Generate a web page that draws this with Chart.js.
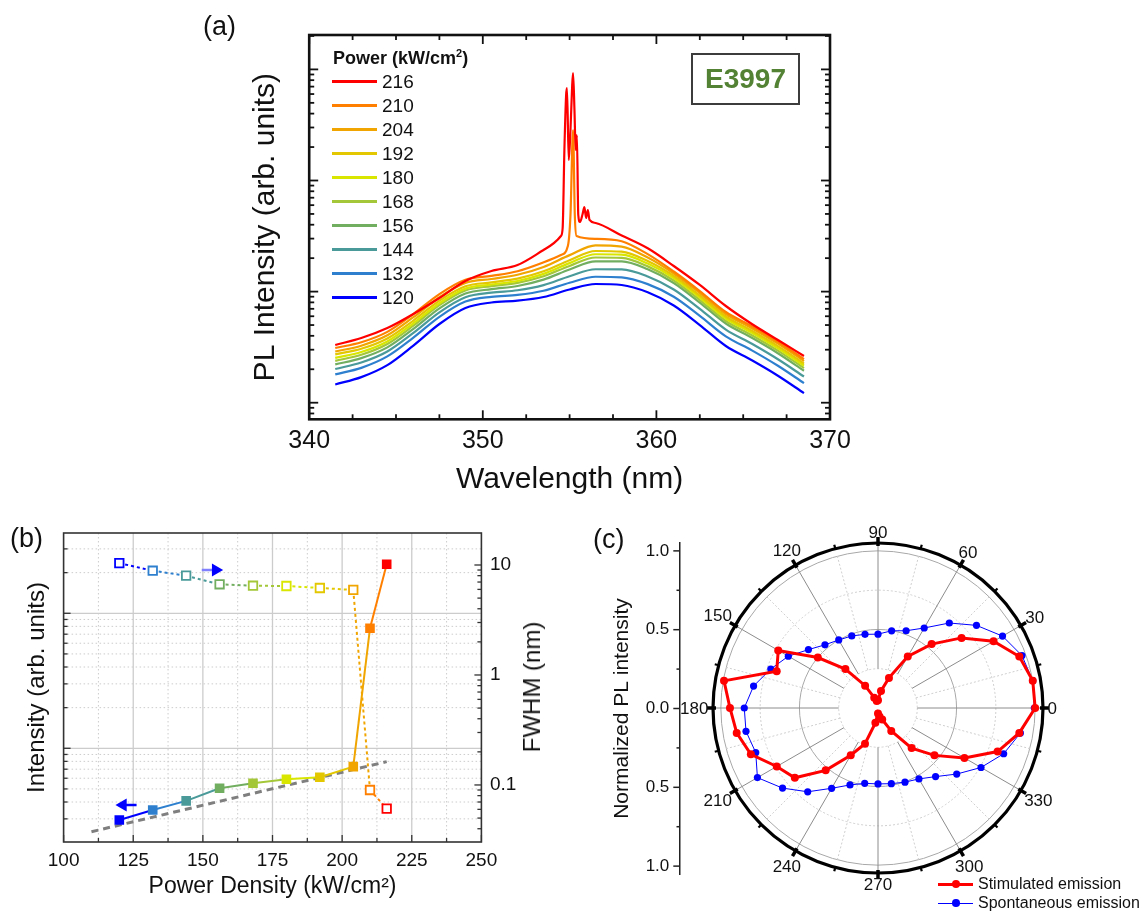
<!DOCTYPE html>
<html>
<head>
<meta charset="utf-8">
<title>E3997 PL spectra, threshold and polarization</title>
<script src="https://cdn.jsdelivr.net/npm/chart.js@4.4.1/dist/chart.umd.min.js"></script>
<style>
  html, body { margin: 0; padding: 0; background: #fff; }
  body { position: relative; width: 1143px; height: 911px; overflow: hidden; font-family: 'Liberation Sans', Arial, sans-serif; color: #111; }
  canvas { position: absolute; }
  .txt { position: absolute; white-space: nowrap; line-height: 1; }
  .panel { font-size: 27px; }
  #boxE { position: absolute; left: 691px; top: 53px; width: 105px; height: 48px; border: 2px solid #3c3c3c; color: #548235; font-weight: bold; font-size: 28px; text-align: center; line-height: 48px; }
  .legRow { position: absolute; height: 24px; line-height: 24px; white-space: nowrap; }
  .legRow .sw { position: absolute; left: 0; }
  .legRow .dot { position: absolute; border-radius: 50%; }
  .legRow .tx { position: absolute; top: 0; }
  #legTitle { position: absolute; left: 333px; top: 46px; height: 24px; line-height: 24px; font-weight: bold; font-size: 18px; white-space: nowrap; }
  #legTitle sup { font-size: 11px; vertical-align: 7px; line-height: 0; }
  #fwhmTitle { left: 532px; top: 687px; font-size: 24px; transform: translate(-50%, -50%) rotate(-90deg); }
</style>
</head>
<body>
<canvas id="chartA" width="630" height="505" style="left:230px; top:0px;"></canvas>
<canvas id="chartB" width="580" height="401" style="left:0px; top:510px;"></canvas>
<canvas id="chartC" width="563" height="401" style="left:580px; top:510px;"></canvas>

<div class="txt panel" style="left:203px; top:13px;">(a)</div>
<div class="txt panel" style="left:10px; top:525px;">(b)</div>
<div class="txt panel" style="left:593px; top:526px;">(c)</div>
<div id="boxE">E3997</div>
<div id="legTitle">Power (kW/cm<sup>2</sup>)</div>
<div id="legendA"></div>
<div class="txt" id="fwhmTitle">FWHM (nm)</div>
<div id="legendC"></div>

<script>
// ---------- panel (a): PL spectra ----------
const wavelength = [341.5, 343, 344.5, 346, 347.5, 349, 350.5, 352, 353.5, 355, 356.5, 358, 359.5, 361, 362.5, 364, 365.5, 367, 368.5];
const pl120 = [1460, 1700, 2180, 3270, 5110, 7120, 7980, 8280, 8940, 10440, 11710, 11470, 9860, 7500, 5000, 3240, 2410, 1750, 1220];
const pl132 = [1800, 2060, 2610, 3850, 5930, 8130, 8980, 9340, 10180, 12020, 13600, 13450, 11680, 8990, 6050, 3960, 2960, 2150, 1500];
const pl144 = [2010, 2300, 2890, 4250, 6510, 8900, 9780, 10280, 11430, 13760, 15890, 15850, 13690, 10450, 7000, 4550, 3390, 2460, 1720];
const pl156 = [2210, 2520, 3150, 4620, 7060, 9620, 10530, 11240, 12820, 15810, 18700, 18680, 15860, 11960, 7970, 5160, 3840, 2790, 1940];
const pl168 = [2380, 2700, 3380, 4940, 7550, 10250, 11210, 12000, 13760, 17030, 20280, 20120, 16870, 12590, 8400, 5440, 4050, 2940, 2050];
const pl180 = [2530, 2860, 3560, 5180, 7860, 10640, 11590, 12450, 14430, 18040, 21680, 21490, 17880, 13260, 8840, 5730, 4260, 3090, 2160];
const pl192 = [2720, 3060, 3790, 5490, 8300, 11160, 12110, 13070, 15230, 19160, 23210, 22890, 18810, 13820, 9220, 5970, 4440, 3230, 2250];
const pl204 = [2890, 3260, 4040, 5880, 8890, 11980, 12980, 14170, 16680, 21300, 26110, 25360, 20240, 14560, 9710, 6290, 4680, 3400, 2370];

// the two highest powers carry the lasing peaks, so they are sampled more densely
const wavelength210 = [341.5, 343, 344.5, 346, 347.5, 349, 350.5, 352, 353.5, 354.5, 354.9, 355.05, 355.2, 355.3, 355.4, 356.5, 358, 359.5, 361, 362.5, 364, 365.5, 367, 368.5];
const pl210 = [3110, 3500, 4340, 6280, 9490, 12770, 13850, 15260, 18350, 21350, 25730, 48920, 284900, 48920, 31660, 29880, 28430, 21760, 15170, 10120, 6550, 4880, 3540, 2470];
const wavelength216 = [341.5, 343, 344.5, 346, 347.5, 349, 350.5, 352, 353.5, 354.5, 354.6, 354.7, 354.8, 354.85, 354.95, 355.05, 355.15, 355.2, 355.28, 355.35, 355.42, 355.5, 355.6, 355.75, 355.85, 355.95, 356.05, 356.15, 356.5, 358, 359.5, 361, 362.5, 364, 365.5, 367, 368.5];
const pl216 = [3310, 3820, 4700, 6290, 8760, 12460, 15320, 17350, 23680, 31660, 37360, 188200, 588300, 680200, 152900, 284800, 723700, 928300, 431000, 188200, 256700, 48920, 42310, 49940, 57730, 45970, 54260, 44110, 41450, 31990, 24530, 17000, 11470, 7420, 5110, 3670, 2630];

// ---------- panel (b): intensity and FWHM vs power ----------
const powerDensity = [120, 132, 144, 156, 168, 180, 192, 204, 210, 216];
const powerColors = ['#0000ff', '#2e80cf', '#4a9a9a', '#72ae60', '#a3c738', '#d8e600', '#e3c700', '#f0a500', '#ff8000', '#ff0000'];
const intensity = [2940, 3490, 4080, 5060, 5510, 5890, 6100, 7310, 77400, 230700];
const fwhm = [10.4, 8.87, 7.99, 6.68, 6.48, 6.44, 6.18, 5.93, 0.090, 0.061];
const fitPower = [110, 216];
const fitIntensity = [2410, 7960];
const arrowLeftPower = [126.2, 121.3];
const arrowLeftIntensity = 3800;
const arrowRightPower = [149.6, 154.6];
const arrowRightFwhm = 9.0;
const fwhmTicks = [0.1, 1, 10];

// ---------- panel (c): polar plot ----------
const polarAngle = [0, 10, 20, 30, 40, 50, 60, 70, 80, 90, 100, 110, 120, 130, 140, 150, 160, 170,
  180, 190, 200, 210, 220, 230, 240, 250, 260, 270, 280, 290, 300, 310, 320, 330, 340, 350];
const stimulated = [1.0, 1.0, 0.957, 0.849, 0.694, 0.531, 0.379, 0.204, 0.11, 0.05, 0.045, 0.07, 0.164, 0.323, 0.5, 0.733, 0.686, 0.995,
  0.942, 0.913, 0.861, 0.744, 0.691, 0.518, 0.347, 0.242, 0.096, 0.035, 0.055, 0.078, 0.169, 0.333, 0.469, 0.635, 0.81, 0.913];
const spontaneous = [0.995, 1.0, 0.975, 0.915, 0.818, 0.706, 0.588, 0.523, 0.499, 0.47, 0.476, 0.488, 0.5, 0.525, 0.578, 0.659, 0.726, 0.804,
  0.851, 0.853, 0.828, 0.886, 0.793, 0.696, 0.59, 0.521, 0.487, 0.483, 0.489, 0.502, 0.521, 0.57, 0.654, 0.757, 0.851, 0.92];
const intensityTicks = [-1, -0.5, 0, 0.5, 1];


Chart.defaults.font.family = "'Liberation Sans', Arial, sans-serif";
Chart.defaults.color = '#111';

function seg(ctx, x1, y1, x2, y2) {
    ctx.beginPath();
    ctx.moveTo(x1, y1);
    ctx.lineTo(x2, y2);
    ctx.stroke();
}

// 1..9 x 10^n marks inside a log range
function logMarks(min, max) {
    const out = [];
    for (let e = Math.floor(Math.log10(min)); e <= Math.ceil(Math.log10(max)); e++) {
        for (let m = 1; m <= 9; m++) {
            const v = m * Math.pow(10, e);
            if (v >= min * 0.999 && v <= max * 1.001) out.push({ v: v, major: m === 1 });
        }
    }
    return out;
}

function pairs(xs, ys) {
    return xs.map((x, i) => ({ x: x, y: ys[i] }));
}

// ---------------- (a) ----------------
const spectra = [
    [wavelength216, pl216], [wavelength210, pl210], [wavelength, pl204], [wavelength, pl192], [wavelength, pl180],
    [wavelength, pl168], [wavelength, pl156], [wavelength, pl144], [wavelength, pl132], [wavelength, pl120]
];
const spectraColors = powerColors.slice().reverse();
const spectraLabels = powerDensity.slice().reverse();

const frameA = {
    id: 'frameA',
    afterDatasetsDraw(chart) {
        const { ctx, chartArea: a, scales: { x, y } } = chart;
        ctx.save();
        ctx.strokeStyle = '#111';
        ctx.lineWidth = 1.8;
        for (let v = x.min; v <= x.max; v += 2.5) {
            const px = x.getPixelForValue(v);
            const len = v % 10 === 0 ? 9 : 5;
            seg(ctx, px, a.bottom, px, a.bottom - len);
            seg(ctx, px, a.top, px, a.top + len);
        }
        logMarks(y.min, y.max).forEach(t => {
            const py = y.getPixelForValue(t.v);
            const len = t.major ? 9 : 5;
            seg(ctx, a.left, py, a.left + len, py);
            seg(ctx, a.right, py, a.right - len, py);
        });
        ctx.lineWidth = 2.6;
        ctx.strokeRect(a.left, a.top, a.right - a.left, a.bottom - a.top);
        ctx.restore();
    }
};

new Chart(document.getElementById('chartA'), {
    type: 'line',
    data: {
        datasets: spectra.map((s, i) => ({
            label: String(spectraLabels[i]),
            data: pairs(s[0], s[1]),
            borderColor: spectraColors[i],
            borderWidth: 2.2,
            pointRadius: 0,
            cubicInterpolationMode: 'monotone'
        }))
    },
    options: {
        responsive: false,
        animation: false,
        events: [],
        layout: { padding: { left: 0, right: 30, top: 35, bottom: 0 } },
        plugins: { legend: { display: false }, tooltip: { enabled: false } },
        scales: {
            x: {
                type: 'linear', min: 340, max: 370,
                ticks: { stepSize: 10, font: { size: 25 }, color: '#111', padding: 7 },
                grid: { display: false, drawTicks: false },
                border: { display: false },
                title: { display: true, text: 'Wavelength (nm)', font: { size: 30 }, color: '#111', padding: { top: 0, bottom: 7 } },
                afterFit: s => { s.height = 85.7; }
            },
            y: {
                type: 'logarithmic', min: 709, max: 2040000,
                ticks: { display: false },
                grid: { display: false, drawTicks: false },
                border: { display: false },
                title: { display: true, text: 'PL Intensity (arb. units)', font: { size: 30 }, color: '#111', padding: { top: 18, bottom: 0 } },
                afterFit: s => { s.width = 79.2; }
            }
        }
    },
    plugins: [frameA]
});

// legend of (a)
const legendA = document.getElementById('legendA');
spectraLabels.forEach((p, i) => {
    const row = document.createElement('div');
    row.className = 'legRow';
    row.style.left = '332px';
    row.style.top = (69.7 + 24 * i) + 'px';
    row.style.fontSize = '19px';
    row.innerHTML = '<span class="sw" style="top:10.5px;width:45px;height:3px;background:' + spectraColors[i] + '"></span>' +
        '<span class="tx" style="left:50px">' + p + '</span>';
    legendA.appendChild(row);
});

// ---------------- (b) ----------------
const frameB = {
    id: 'frameB',
    beforeDatasetsDraw(chart) {
        const { ctx, chartArea: a, scales: { x, y } } = chart;
        ctx.save();
        ctx.strokeStyle = '#cccccc';
        for (let v = x.min + 12.5; v < x.max; v += 12.5) {
            const px = x.getPixelForValue(v);
            const solid = v % 25 === 0;
            ctx.lineWidth = solid ? 1.3 : 1;
            ctx.setLineDash(solid ? [] : [1.5, 2.5]);
            seg(ctx, px, a.top, px, a.bottom);
        }
        logMarks(y.min, y.max).forEach(t => {
            const py = y.getPixelForValue(t.v);
            ctx.lineWidth = t.major ? 1.3 : 1;
            ctx.setLineDash(t.major ? [] : [1.5, 2.5]);
            seg(ctx, a.left, py, a.right, py);
        });
        ctx.restore();
    },
    afterDatasetsDraw(chart) {
        const { ctx, chartArea: a, scales: { x, y, y2 } } = chart;
        ctx.save();
        ctx.strokeStyle = '#333';
        ctx.lineWidth = 1.3;
        for (let v = x.min; v <= x.max; v += 12.5) {
            const px = x.getPixelForValue(v);
            seg(ctx, px, a.bottom, px, a.bottom - (v % 25 === 0 ? 7 : 4));
        }
        logMarks(y.min, y.max).forEach(t => {
            const py = y.getPixelForValue(t.v);
            seg(ctx, a.left, py, a.left + (t.major ? 7 : 4), py);
        });
        logMarks(y2.min, y2.max).forEach(t => {
            const py = y2.getPixelForValue(t.v);
            seg(ctx, a.right, py, a.right - (t.major ? 7 : 4), py);
        });
        ctx.lineWidth = 1.6;
        ctx.strokeRect(a.left, a.top, a.right - a.left, a.bottom - a.top);
        ctx.restore();
    }
};

new Chart(document.getElementById('chartB'), {
    type: 'line',
    data: {
        datasets: [
            {
                label: 'FWHM',
                data: pairs(powerDensity, fwhm),
                yAxisID: 'y2',
                borderWidth: 2,
                borderDash: [3, 3],
                borderColor: powerColors[0],
                segment: { borderColor: c => powerColors[c.p0DataIndex] },
                pointStyle: 'rect',
                pointRadius: 6,
                pointBorderWidth: 1.8,
                pointBackgroundColor: '#fff',
                pointBorderColor: powerColors
            },
            {
                label: 'Intensity',
                data: pairs(powerDensity, intensity),
                yAxisID: 'y',
                borderWidth: 2,
                borderColor: powerColors[0],
                segment: { borderColor: c => powerColors[c.p0DataIndex] },
                pointStyle: 'rect',
                pointRadius: 6.8,
                pointBorderWidth: 0,
                pointBackgroundColor: powerColors,
                pointBorderColor: powerColors
            },
            {
                label: 'arrow to left axis',
                data: arrowLeftPower.map(p => ({ x: p, y: arrowLeftIntensity })),
                yAxisID: 'y',
                borderColor: '#0000ff',
                borderWidth: 2.5,
                pointStyle: 'triangle',
                pointRadius: [0, 7.5],
                pointRotation: [0, -90],
                pointBackgroundColor: '#0000ff',
                pointBorderColor: '#0000ff',
                pointBorderWidth: 0
            },
            {
                label: 'arrow to right axis',
                data: arrowRightPower.map(p => ({ x: p, y: arrowRightFwhm })),
                yAxisID: 'y2',
                borderColor: '#8080ff',
                borderWidth: 2.5,
                pointStyle: 'triangle',
                pointRadius: [0, 7.5],
                pointRotation: [0, 90],
                pointBackgroundColor: '#0000ff',
                pointBorderColor: '#0000ff',
                pointBorderWidth: 0
            },
            {
                label: 'fit',
                data: pairs(fitPower, fitIntensity),
                yAxisID: 'y',
                borderColor: '#7f7f7f',
                borderWidth: 3,
                borderDash: [7, 5],
                pointRadius: 0
            }
        ]
    },
    options: {
        responsive: false,
        animation: false,
        events: [],
        layout: { padding: { left: 0, right: 0, top: 23, bottom: 0 } },
        plugins: { legend: { display: false }, tooltip: { enabled: false } },
        scales: {
            x: {
                type: 'linear', min: 100, max: 250,
                ticks: { stepSize: 25, font: { size: 19 }, color: '#111', padding: 7 },
                grid: { display: false, drawTicks: false },
                border: { display: false },
                title: { display: true, text: 'Power Density (kW/cm²)', font: { size: 23 }, color: '#111', padding: { top: 0, bottom: 10.5 } },
                afterFit: s => { s.height = 69; }
            },
            y: {
                type: 'logarithmic', position: 'left', min: 2022, max: 393300,
                ticks: { display: false },
                grid: { display: false, drawTicks: false },
                border: { display: false },
                title: { display: true, text: 'Intensity (arb. units)', font: { size: 24 }, color: '#111', padding: { top: 23, bottom: 0 } },
                afterFit: s => { s.width = 63.6; }
            },
            y2: {
                type: 'logarithmic', position: 'right', min: 0.0303, max: 19.54,
                afterBuildTicks: s => { s.ticks = fwhmTicks.map(v => ({ value: v })); },
                ticks: { font: { size: 19 }, color: '#111', padding: 8.6, callback: v => String(v) },
                grid: { display: false, drawTicks: false },
                border: { display: false },
                afterFit: s => { s.width = 98.6; }
            }
        }
    },
    plugins: [frameB]
});

// ---------------- (c) ----------------
// radar places label i clockwise from startAngle, so walk the angles backwards
const radarOrder = polarAngle.map((a, i) => (polarAngle.length - i) % polarAngle.length);

const polarGrid = {
    id: 'polarGrid',
    beforeDatasetsDraw(chart) {
        const { ctx, scales: { r } } = chart;
        const cx = r.xCenter, cy = r.yCenter;
        const d = v => r.getDistanceFromCenterForValue(v);
        ctx.save();
        [0.25, 0.5, 0.75, 1].forEach(v => {
            const solid = v === 0.5 || v === 1;
            ctx.strokeStyle = solid ? '#a8a8a8' : '#cfcfcf';
            ctx.lineWidth = 1;
            ctx.setLineDash(solid ? [] : [2, 2]);
            ctx.beginPath();
            ctx.arc(cx, cy, d(v), 0, Math.PI * 2);
            ctx.stroke();
        });
        for (let a = 0; a < 360; a += 15) {
            const t = a * Math.PI / 180;
            const solid = a % 30 === 0;
            ctx.strokeStyle = solid ? '#8c8c8c' : '#cfcfcf';
            ctx.setLineDash(solid ? [] : [2, 2]);
            const r0 = d(0.25), r1 = solid ? d(1.05) : d(1);
            seg(ctx, cx + Math.cos(t) * r0, cy - Math.sin(t) * r0, cx + Math.cos(t) * r1, cy - Math.sin(t) * r1);
        }
        ctx.restore();
    },
    afterDraw(chart) {
        const { ctx, chartArea: ca, scales: { r, y } } = chart;
        const cx = r.xCenter, cy = r.yCenter;
        const R = r.getDistanceFromCenterForValue(1.05);
        ctx.save();
        ctx.strokeStyle = '#000';
        ctx.lineWidth = 3.2;
        ctx.beginPath();
        ctx.arc(cx, cy, R, 0, Math.PI * 2);
        ctx.stroke();
        for (let a = 0; a < 360; a += 15) {
            const t = a * Math.PI / 180;
            const major = a % 30 === 0;
            ctx.lineWidth = major ? 3.5 : 2.2;
            const r0 = major ? R - 3 : R, r1 = major ? R + 6 : R + 4;
            seg(ctx, cx + Math.cos(t) * r0, cy - Math.sin(t) * r0, cx + Math.cos(t) * r1, cy - Math.sin(t) * r1);
        }
        ctx.fillStyle = '#111';
        ctx.font = "17px 'Liberation Sans', Arial, sans-serif";
        ctx.textAlign = 'center';
        ctx.textBaseline = 'middle';
        for (let a = 0; a < 360; a += 30) {
            const t = a * Math.PI / 180;
            const w = ctx.measureText(String(a)).width;
            const off = R + 4.6 + Math.abs(Math.cos(t)) * w / 2 + Math.abs(Math.sin(t)) * 6.5;
            ctx.fillText(String(a), cx + Math.cos(t) * off, cy - Math.sin(t) * off + 1);
        }
        // outward ticks of the left intensity axis
        ctx.strokeStyle = '#222';
        ctx.lineWidth = 1.5;
        for (let v = -1; v <= 1; v += 0.25) {
            const py = y.getPixelForValue(v);
            seg(ctx, ca.left - (v % 0.5 === 0 ? 6.7 : 3.5), py, ca.left, py);
        }
        ctx.restore();
    }
};

new Chart(document.getElementById('chartC'), {
    type: 'radar',
    data: {
        labels: radarOrder.map(k => polarAngle[k]),
        datasets: [
            {
                label: 'Stimulated emission',
                data: radarOrder.map(k => stimulated[k]),
                borderColor: '#ff0000',
                borderWidth: 3,
                pointRadius: 4,
                pointBorderWidth: 0,
                pointBackgroundColor: '#ff0000',
                fill: false
            },
            {
                label: 'Spontaneous emission',
                data: radarOrder.map(k => spontaneous[k]),
                borderColor: '#0000ff',
                borderWidth: 1,
                pointRadius: 3.6,
                pointBorderWidth: 0,
                pointBackgroundColor: '#0000ff',
                fill: false
            }
        ]
    },
    options: {
        responsive: false,
        animation: false,
        events: [],
        layout: { padding: { left: 0, right: 66.4, top: 33, bottom: 37 } },
        plugins: { legend: { display: false }, tooltip: { enabled: false } },
        scales: {
            r: {
                min: 0, max: 1.05, startAngle: 90,
                ticks: { display: false },
                grid: { display: false },
                angleLines: { display: false },
                pointLabels: { display: false }
            },
            y: {
                type: 'linear', position: 'left', display: true, min: -1.05, max: 1.05,
                afterBuildTicks: s => { s.ticks = intensityTicks.map(v => ({ value: v })); },
                ticks: { font: { size: 17 }, color: '#111', padding: 10.7, callback: v => Math.abs(v).toFixed(1) },
                grid: { display: false, drawTicks: false },
                border: { display: true, color: '#222', width: 1.5 },
                title: { display: true, text: 'Normalized PL intensity', font: { size: 21 }, color: '#111', padding: { top: 29.4, bottom: 0 } },
                afterFit: s => { s.width = 100; }
            }
        }
    },
    plugins: [polarGrid]
});

// legend of (c)
const legendC = document.getElementById('legendC');
[['Stimulated emission', '#ff0000', 3, 4.2, 884.3], ['Spontaneous emission', '#0000ff', 1, 3.8, 903.3]].forEach(e => {
    const row = document.createElement('div');
    row.className = 'legRow';
    row.style.left = '938px';
    row.style.top = (e[4] - 12) + 'px';
    row.style.fontSize = '16px';
    row.innerHTML = '<span class="sw" style="top:' + (12 - e[2] / 2) + 'px;width:35px;height:' + e[2] + 'px;background:' + e[1] + '"></span>' +
        '<span class="dot" style="left:' + (18 - e[3]) + 'px;top:' + (12 - e[3]) + 'px;width:' + (2 * e[3]) + 'px;height:' + (2 * e[3]) + 'px;background:' + e[1] + '"></span>' +
        '<span class="tx" style="left:40px">' + e[0] + '</span>';
    legendC.appendChild(row);
});
</script>
</body>
</html>
